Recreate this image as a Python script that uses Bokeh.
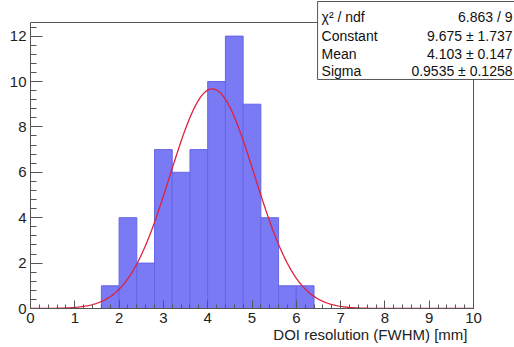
import numpy as np
from bokeh.plotting import figure
from bokeh.models import Range1d, SingleIntervalTicker, Label, BoxAnnotation, Title
from bokeh.embed import file_html
from bokeh.resources import INLINE

# Histogram data (DOI resolution, FWHM in mm)
bin_edges = [1.6, 2.0, 2.4, 2.8, 3.2, 3.6, 4.0, 4.4, 4.8, 5.2, 5.6, 6.0, 6.4]
counts = [1, 4, 2, 7, 6, 7, 10, 12, 9, 4, 1, 1]

# Gaussian fit parameters
fit_constant = 9.675
fit_mean = 4.103
fit_sigma = 0.9535

stat_names = ["χ² / ndf", "Constant", "Mean", "Sigma"]
stat_values = ["6.863 / 9", "9.675 ± 1.737", "4.103 ± 0.147", "0.9535 ± 0.1258"]

x_title = "DOI resolution (FWHM) [mm]"

# axis frame limits (ROOT style: y max = 1.05 * max count)
x_min, x_max = 0, 10
y_min, y_max = 0, 12.6

FONT = "Liberation Sans"
AXC = "#555555"

# frame: data x 0..10 -> px 30..473, data y 0..12.6 -> px 308..22
px_per_x = (473 - 30) / (x_max - x_min)
px_per_y = (308 - 22) / (y_max - y_min)
x_end = (514 - 30) / px_per_x
y_end = 308 / px_per_y

p = figure(width=514, height=347, x_range=Range1d(0, x_end), y_range=Range1d(0, y_end),
           output_backend="svg", toolbar_location=None,
           min_border_left=30, min_border_right=0, min_border_top=0, min_border_bottom=39)
p.background_fill_color = "white"
p.border_fill_color = "white"
p.outline_line_color = None
p.xgrid.visible = False
p.ygrid.visible = False

p.xaxis.ticker = SingleIntervalTicker(interval=1, num_minor_ticks=5)
p.yaxis.ticker = SingleIntervalTicker(interval=2, num_minor_ticks=5)
p.xaxis.bounds = (x_min, x_max)
p.yaxis.bounds = (y_min, y_max)
for ax in (p.xaxis, p.yaxis):
    ax.axis_line_color = AXC
    ax.major_tick_line_color = AXC
    ax.minor_tick_line_color = AXC
    ax.major_tick_out = 0
    ax.minor_tick_out = 0
    ax.major_label_text_font = FONT
    ax.major_label_text_font_size = "15px"
    ax.major_label_text_color = "#222222"
    ax.major_label_standoff = 4
p.xaxis.major_tick_in = 8
p.xaxis.minor_tick_in = 4
p.yaxis.major_tick_in = 12
p.yaxis.minor_tick_in = 6

# frame outline (top and right edges)
p.add_layout(BoxAnnotation(left=x_min, right=x_max, bottom=y_min, top=y_max,
                           fill_alpha=0, line_color=AXC, line_width=1, line_alpha=1.0))

lefts = bin_edges[:-1]
rights = bin_edges[1:]
p.quad(left=lefts, right=rights, bottom=0, top=counts,
       fill_color="#7a7af5", line_color="#6666e6", line_width=1)

xs = np.linspace(x_min, x_max, 400)
ys = fit_constant * np.exp(-0.5 * ((xs - fit_mean) / fit_sigma) ** 2)
p.line(xs, ys, line_color="#e0203a", line_width=1.3)

# axis title, right-aligned under the axis
p.add_layout(Title(text=x_title, align="right", text_font=FONT, text_font_size="15px",
                   text_font_style="normal", text_color="#222222",
                   offset=47, standoff=-4), "below")

# stats box
p.add_layout(BoxAnnotation(left=6.48, right=11.5, top=13.525, bottom=10.09,
                           fill_color="white", fill_alpha=1.0,
                           line_color=AXC, line_width=1, line_alpha=1.0))
row_y = [12.85, 12.02, 11.23, 10.48]
for name, val, yy in zip(stat_names, stat_values, row_y):
    p.add_layout(Label(x=6.57, y=yy, text=name, text_align="left", text_baseline="middle",
                       text_font=FONT, text_font_size="14px", text_color="#111111"))
    p.add_layout(Label(x=10.88, y=yy, text=val, text_align="right", text_baseline="middle",
                       text_font=FONT, text_font_size="14px", text_color="#111111"))

open("out.html", "w").write(file_html(p, INLINE))
